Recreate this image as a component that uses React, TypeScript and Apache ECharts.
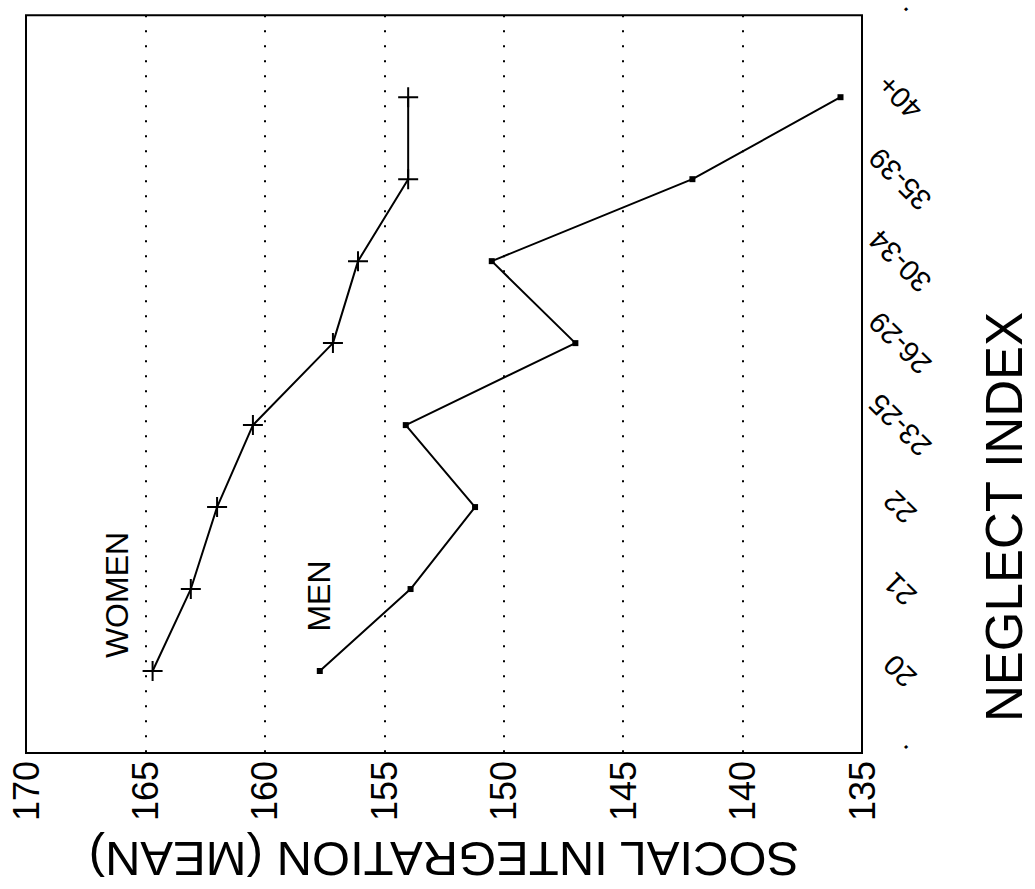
import React, { useEffect, useRef } from "react";
import * as echarts from "echarts";

const categories = ["20", "21", "22", "23-25", "26-29", "30-34", "35-39", "40+"];
const womenValues = [164.7, 163.1, 162.0, 160.5, 157.15, 156.1, 154.0, 154.0];
const menValues = [157.7, 153.9, 151.2, 154.1, 147.0, 150.5, 142.1, 135.9];
const valueTicks = [135, 140, 145, 150, 155, 160, 165, 170];

const FONT = "'Liberation Sans', Arial, Helvetica, sans-serif";

export default function App() {
  const ref = useRef<HTMLDivElement>(null);
  useEffect(() => {
    if (!ref.current) return;
    const chart = echarts.init(ref.current, undefined, { renderer: "svg" });
    const toPairs = (vals: number[]) => vals.map((v, i) => [v, i]);
    chart.setOption({
      animation: false,
      backgroundColor: "#fff",
      textStyle: { fontFamily: FONT, color: "#000" },
      grid: {
        left: 26,
        right: 173,
        top: 9,
        bottom: 136,
        show: true,
        borderColor: "#000",
        borderWidth: 2,
        backgroundColor: "transparent",
      },
      xAxis: {
        type: "value",
        min: valueTicks[0],
        max: valueTicks[valueTicks.length - 1],
        interval: 5,
        inverse: true,
        axisLine: { show: false },
        axisTick: { show: false },
        splitLine: {
          show: true,
          lineStyle: { color: "#000", width: 2, type: [2, 13] },
        },
        axisLabel: {
          rotate: 90,
          fontSize: 36,
          color: "#000",
          fontFamily: FONT,
          margin: 8,
        },
        name: "SOCIAL INTEGRATION (MEAN)",
        nameLocation: "middle",
        nameRotate: 180,
        nameGap: 106,
        nameTextStyle: {
          fontSize: 49,
          color: "#000",
          fontFamily: FONT,
          align: "center",
          verticalAlign: "middle",
        },
      },
      yAxis: {
        type: "value",
        min: -1,
        max: 8,
        interval: 1,
        position: "right",
        axisLine: { show: false },
        axisTick: { show: false },
        splitLine: { show: false },
        axisLabel: {
          rotate: 135,
          fontSize: 29,
          color: "#000",
          fontFamily: FONT,
          margin: 38,
          align: "center",
          verticalAlign: "middle",
          formatter: (v: number) => {
            const i = Math.round(v);
            if (i >= 0 && i < categories.length) return categories[i];
            return ".";
          },
        },
      },
      graphic: [
        {
          type: "text",
          x: 1004,
          y: 517,
          rotation: Math.PI / 2,
          style: {
            text: "NEGLECT INDEX",
            fontSize: 51,
            fontFamily: FONT,
            fill: "#000",
            textAlign: "center",
            textVerticalAlign: "middle",
          },
        },
        {
          type: "text",
          x: 117,
          y: 595,
          rotation: Math.PI / 2,
          style: {
            text: "WOMEN",
            fontSize: 32,
            fontFamily: FONT,
            fill: "#000",
            textAlign: "center",
            textVerticalAlign: "middle",
          },
        },
        {
          type: "text",
          x: 319,
          y: 596,
          rotation: Math.PI / 2,
          style: {
            text: "MEN",
            fontSize: 32,
            fontFamily: FONT,
            fill: "#000",
            textAlign: "center",
            textVerticalAlign: "middle",
          },
        },
      ],
      series: [
        {
          name: "WOMEN",
          type: "line",
          data: toPairs(womenValues),
          symbol: "path://M9,0H11V20H9Z M0,9H20V11H0Z",
          symbolSize: 20,
          showSymbol: true,
          itemStyle: { color: "#000" },
          lineStyle: { color: "#000", width: 2 },
        },
        {
          name: "MEN",
          type: "line",
          data: toPairs(menValues),
          symbol: "rect",
          symbolSize: 6,
          showSymbol: true,
          itemStyle: { color: "#000" },
          lineStyle: { color: "#000", width: 2 },
        },
      ],
    });
    return () => chart.dispose();
  }, []);
  return (
    <div
      ref={ref}
      style={{ position: "fixed", left: 0, top: 0, width: 1035, height: 889, background: "#fff" }}
    />
  );
}
